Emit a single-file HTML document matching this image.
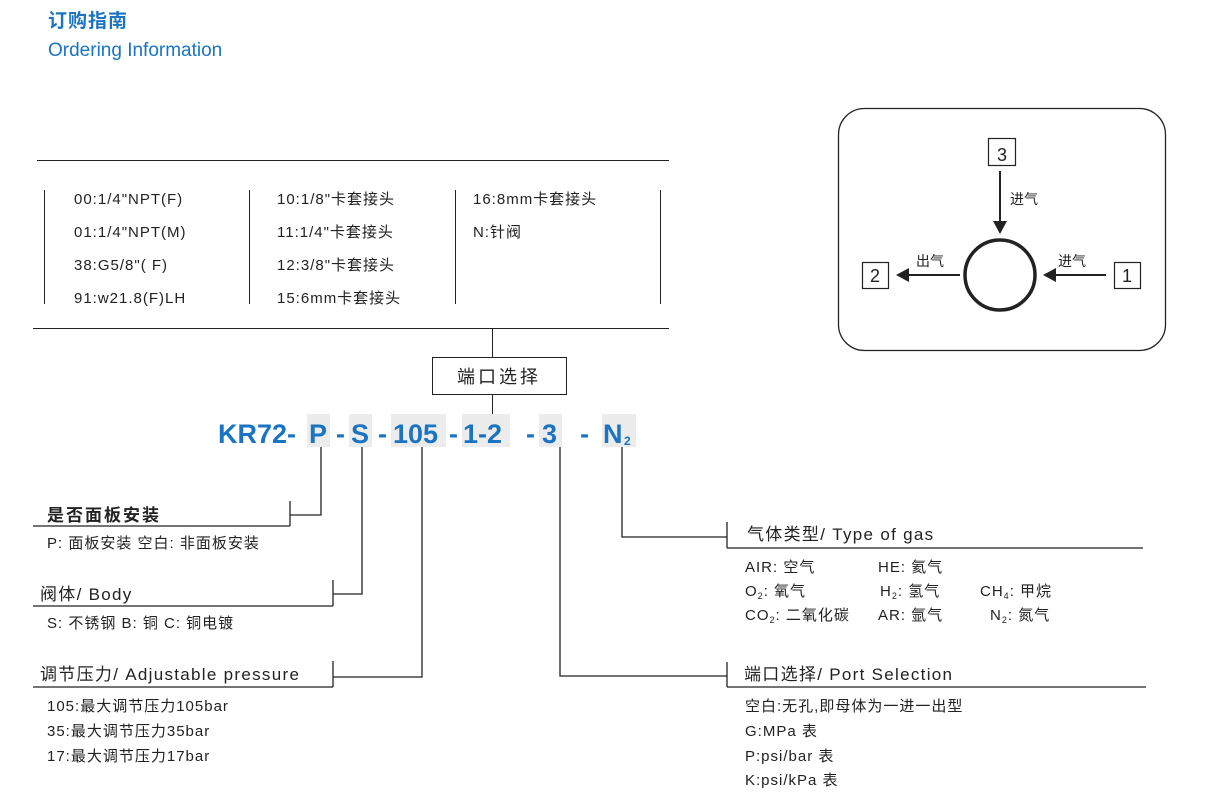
<!DOCTYPE html>
<html><head><meta charset="utf-8"><style>
body{margin:0;background:#fff}
svg{display:block}
text{font-family:"Liberation Sans","Noto Sans CJK SC",sans-serif;fill:#222}
text.b,.b text{fill:#1a74c1}
.s{font-size:15px;letter-spacing:1px}
.h{font-size:17px;letter-spacing:1.3px}
</style></head><body>
<svg width="1220" height="807" viewBox="0 0 1220 807">
<text x="48" y="27" class="b" font-size="19" font-weight="bold" letter-spacing="1">订购指南</text>
<text x="48" y="56" class="b" font-size="19">Ordering Information</text>

<g stroke="#222" stroke-width="1" fill="none">
<line x1="37" y1="160.5" x2="669" y2="160.5"/>
<line x1="44.5" y1="190" x2="44.5" y2="304"/>
<line x1="249.5" y1="190" x2="249.5" y2="304"/>
<line x1="455.5" y1="190" x2="455.5" y2="304"/>
<line x1="660.5" y1="190" x2="660.5" y2="304"/>
<line x1="33" y1="328.5" x2="669" y2="328.5"/>
<line x1="492.5" y1="328" x2="492.5" y2="357"/>
<rect x="432.5" y="357.5" width="134" height="37"/>
<line x1="492.5" y1="394" x2="492.5" y2="414"/>
</g>
<g class="s">
<text x="74" y="204">00:1/4"NPT(F)</text>
<text x="74" y="237">01:1/4"NPT(M)</text>
<text x="74" y="270">38:G5/8"( F)</text>
<text x="74" y="303">91:w21.8(F)LH</text>
<text x="277" y="204">10:1/8"卡套接头</text>
<text x="277" y="237">11:1/4"卡套接头</text>
<text x="277" y="270">12:3/8"卡套接头</text>
<text x="277" y="303">15:6mm卡套接头</text>
<text x="473" y="204">16:8mm卡套接头</text>
<text x="473" y="237">N:针阀</text>
</g>
<text x="499" y="383" font-size="18" text-anchor="middle" letter-spacing="3">端口选择</text>

<g fill="#ececec">
<rect x="307" y="414" width="23" height="33"/>
<rect x="349" y="414" width="23" height="33"/>
<rect x="391" y="414" width="55" height="33"/>
<rect x="462" y="414" width="48" height="33"/>
<rect x="539" y="414" width="23" height="33"/>
<rect x="602" y="414" width="34" height="33"/>
</g>
<g class="b" font-size="27" font-weight="bold">
<text x="218" y="443">KR72-</text>
<text x="309" y="443">P</text>
<text x="336" y="443">-</text>
<text x="351" y="443">S</text>
<text x="378" y="443">-</text>
<text x="393" y="443">105</text>
<text x="449" y="443">-</text>
<text x="463" y="443">1-2</text>
<text x="526" y="443">-</text>
<text x="542" y="443">3</text>
<text x="580" y="443">-</text>
<text x="603" y="443">N</text>
<text x="624" y="445" font-size="12">2</text>
</g>

<g stroke="#222" stroke-width="1.3" fill="none">
<polyline points="321,447 321,515 290,515"/>
<line x1="290" y1="501" x2="290" y2="526"/>
<line x1="33" y1="526" x2="290" y2="526"/>
<polyline points="362,447 362,594 333,594"/>
<line x1="333" y1="580" x2="333" y2="606"/>
<line x1="33" y1="606" x2="333" y2="606"/>
<polyline points="422,447 422,677 333,677"/>
<line x1="333" y1="661" x2="333" y2="687"/>
<line x1="33" y1="687" x2="333" y2="687"/>
<polyline points="622,447 622,537 727,537"/>
<line x1="727" y1="522" x2="727" y2="548"/>
<line x1="727" y1="548" x2="1143" y2="548"/>
<polyline points="560,447 560,676 727,676"/>
<line x1="727" y1="662" x2="727" y2="687"/>
<line x1="727" y1="687" x2="1146" y2="687"/>
</g>

<text x="47" y="521" font-size="17" font-weight="bold" letter-spacing="2">是否面板安装</text>
<text x="47" y="548" class="s">P: 面板安装  空白: 非面板安装</text>
<text x="40" y="600" class="h">阀体/ Body</text>
<text x="47" y="628" class="s">S: 不锈钢 B: 铜 C: 铜电镀</text>
<text x="40" y="680" class="h">调节压力/ Adjustable pressure</text>
<g class="s">
<text x="47" y="711">105:最大调节压力105bar</text>
<text x="47" y="736">35:最大调节压力35bar</text>
<text x="47" y="761">17:最大调节压力17bar</text>
</g>

<text x="747" y="540" class="h">气体类型/ Type of gas</text>
<g class="s">
<text x="745" y="572">AIR: 空气</text>
<text x="878" y="572">HE: 氦气</text>
<text x="745" y="596">O<tspan font-size="9" dy="3">2</tspan><tspan dy="-3">: 氧气</tspan></text>
<text x="880" y="596">H<tspan font-size="9" dy="3">2</tspan><tspan dy="-3">: 氢气</tspan></text>
<text x="980" y="596">CH<tspan font-size="9" dy="3">4</tspan><tspan dy="-3">: 甲烷</tspan></text>
<text x="745" y="620">CO<tspan font-size="9" dy="3">2</tspan><tspan dy="-3">: 二氧化碳</tspan></text>
<text x="878" y="620">AR: 氩气</text>
<text x="990" y="620">N<tspan font-size="9" dy="3">2</tspan><tspan dy="-3">: 氮气</tspan></text>
</g>
<text x="744" y="680" class="h">端口选择/ Port Selection</text>
<g class="s">
<text x="745" y="711">空白:无孔,即母体为一进一出型</text>
<text x="745" y="736">G:MPa 表</text>
<text x="745" y="761">P:psi/bar 表</text>
<text x="745" y="785">K:psi/kPa 表</text>
</g>

<g stroke="#222" fill="none">
<rect x="838.5" y="108.5" width="327" height="242" rx="26" stroke-width="1.3"/>
<circle cx="1000" cy="275" r="35" stroke-width="3.5"/>
<rect x="988.5" y="138.5" width="27" height="27" stroke-width="1.2"/>
<rect x="862.5" y="262.5" width="26" height="26" stroke-width="1.2"/>
<rect x="1114.5" y="262.5" width="26" height="26" stroke-width="1.2"/>
<line x1="1000" y1="171" x2="1000" y2="222" stroke-width="2"/>
<line x1="960" y1="275" x2="905" y2="275" stroke-width="2"/>
<line x1="1106" y1="275" x2="1052" y2="275" stroke-width="2"/>
</g>
<g fill="#222">
<polygon points="993,221 1007,221 1000,234"/>
<polygon points="909,268 909,282 896,275"/>
<polygon points="1056,268 1056,282 1043,275"/>
</g>
<g font-size="18">
<text x="1002" y="161" text-anchor="middle">3</text>
<text x="875" y="282" text-anchor="middle">2</text>
<text x="1127" y="282" text-anchor="middle">1</text>
</g>
<g font-size="14">
<text x="1010" y="204">进气</text>
<text x="916" y="266">出气</text>
<text x="1058" y="266">进气</text>
</g>
</svg>
</body></html>
